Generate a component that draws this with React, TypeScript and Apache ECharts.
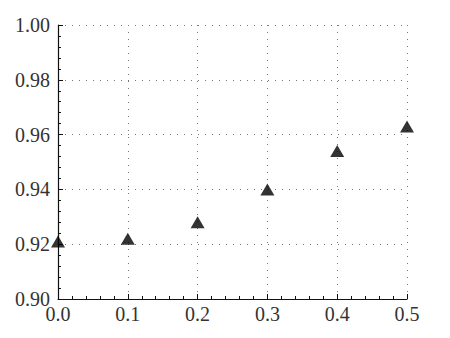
import React, { useEffect, useRef } from "react";
import * as echarts from "echarts";

const xValues = [0.0, 0.1, 0.2, 0.3, 0.4, 0.5];
const yValues = [0.921, 0.922, 0.928, 0.94, 0.954, 0.963];

const FONT = "Liberation Serif";

export default function App() {
  const ref = useRef<HTMLDivElement>(null);
  useEffect(() => {
    if (!ref.current) return;
    const chart = echarts.init(ref.current, undefined, { renderer: "svg" });
    const splitLine = {
      show: true,
      lineStyle: { color: "#777", width: 1, type: [1, 6] as any },
    };
    chart.setOption({
      animation: false,
      backgroundColor: "#fff",
      textStyle: { fontFamily: FONT },
      grid: { left: 58, right: 43, top: 25, bottom: 39, containLabel: false },
      xAxis: {
        type: "value",
        min: 0,
        max: 0.5,
        interval: 0.1,
        axisLine: { show: true, onZero: false, lineStyle: { color: "#111", width: 1.2 } },
        axisTick: { show: true, inside: true, length: 5, lineStyle: { color: "#111" } },
        minorTick: { show: true, splitNumber: 5, length: 3, lineStyle: { color: "#111" } },
        splitLine,
        axisLabel: {
          color: "#333",
          fontFamily: FONT,
          fontSize: 20,
          margin: 5,
          formatter: (v: number) => v.toFixed(1),
        },
      },
      yAxis: {
        type: "value",
        min: 0.9,
        max: 1.0,
        interval: 0.02,
        axisLine: { show: true, onZero: false, lineStyle: { color: "#111", width: 1.2 } },
        axisTick: { show: true, inside: true, length: 5, lineStyle: { color: "#111" } },
        minorTick: { show: true, splitNumber: 5, length: 3, lineStyle: { color: "#111" } },
        splitLine,
        axisLabel: {
          color: "#333",
          fontFamily: FONT,
          fontSize: 20,
          margin: 8,
          formatter: (v: number) => v.toFixed(2),
        },
      },
      series: [
        {
          type: "scatter",
          symbol: "triangle",
          symbolSize: [14, 12],
          itemStyle: { color: "#000" },
          data: xValues.map((x, i) => [x, yValues[i]]),
          clip: false,
        },
      ],
    });
    return () => chart.dispose();
  }, []);
  return <div ref={ref} style={{ width: 450, height: 338, position: "absolute", left: 0, top: 0 }} />;
}
